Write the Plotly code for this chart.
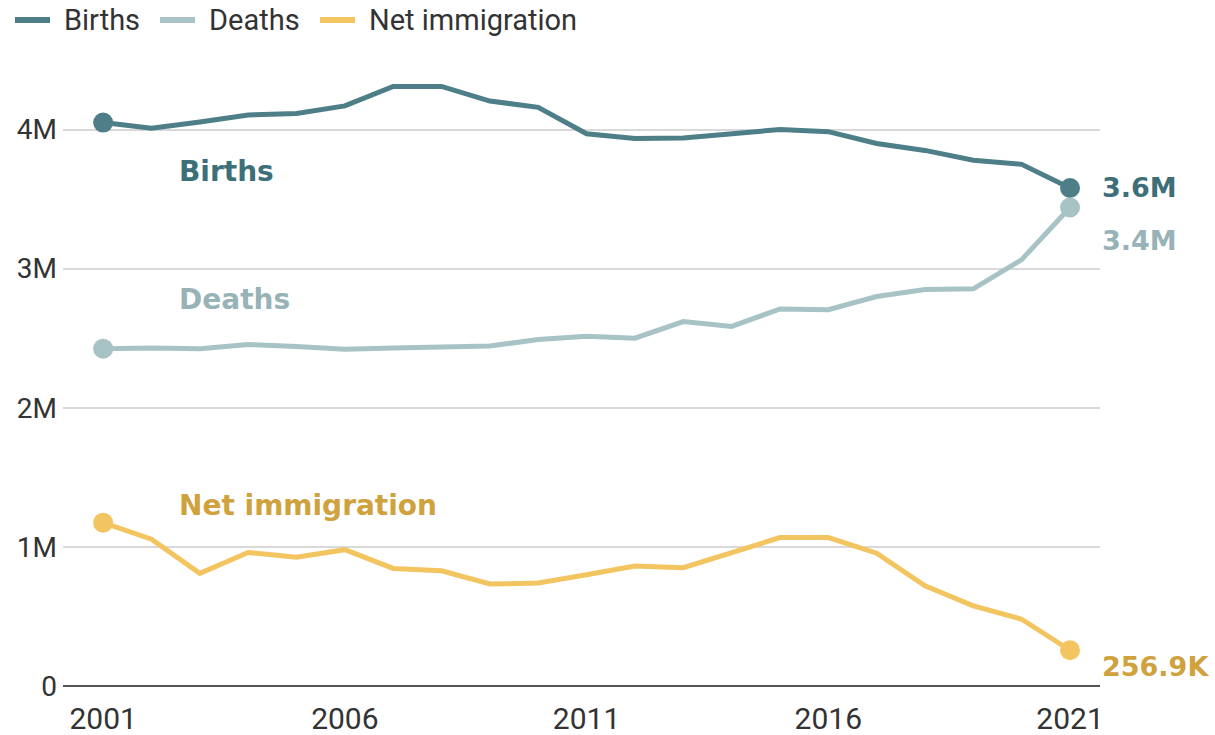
import plotly.graph_objects as go

years = list(range(2001, 2022))
births = [4.05, 4.01, 4.055, 4.105, 4.115, 4.17, 4.31, 4.31, 4.205, 4.16, 3.97,
          3.935, 3.94, 3.97, 4.0, 3.985, 3.9, 3.85, 3.78, 3.75, 3.58]
deaths = [2.425, 2.43, 2.425, 2.455, 2.44, 2.42, 2.43, 2.437, 2.444, 2.49, 2.515,
          2.50, 2.62, 2.585, 2.71, 2.705, 2.80, 2.85, 2.855, 3.065, 3.44]
net_imm = [1.174, 1.055, 0.81, 0.96, 0.926, 0.98, 0.845, 0.828, 0.733, 0.74, 0.80,
           0.863, 0.85, 0.96, 1.067, 1.067, 0.955, 0.72, 0.576, 0.48, 0.2569]
births = [v * 1e6 for v in births]
deaths = [v * 1e6 for v in deaths]
net_imm = [v * 1e6 for v in net_imm]

series = [
    ("Births", births, "#4e7f88", "#3d6f78", "3.6M", 0),
    ("Deaths", deaths, "#a8c3c6", "#98b3b7", "3.4M", -33),
    ("Net immigration", net_imm, "#f3c560", "#cfa23e", "256.9K", -16),
]
in_labels = [("Births", 3.70e6), ("Deaths", 2.78e6), ("Net immigration", 1.30e6)]

xticks = [2001, 2006, 2011, 2016, 2021]
yticks = [0, 1e6, 2e6, 3e6, 4e6]
yticklabels = ["0", "1M", "2M", "3M", "4M"]

BOLD = "DejaVu Sans, sans-serif"
REG = "Roboto, sans-serif"

W, H = 1215, 735
ML, MR, MT, MB = 63, 115, 60, 49
PW, PH = W - ML - MR, H - MT - MB


def px_to_paper_x(px):
    return (px - ML) / PW


def px_to_paper_y(py):
    return (H - MB - py) / PH


# legend item pixel positions (line start, text start)
legend_pos = [(15, 62), (160, 207), (320, 367)]
legend_y = 20

fig = go.Figure()
for (name, vals, col, tcol, endlab, ys), (lx, tx) in zip(series, legend_pos):
    fig.add_trace(go.Scatter(
        x=years, y=vals, mode="lines", name=name,
        line=dict(color=col, width=5), showlegend=False,
    ))
    fig.add_trace(go.Scatter(
        x=[years[0], years[-1]], y=[vals[0], vals[-1]], mode="markers",
        marker=dict(color=col, size=20), showlegend=False, hoverinfo="skip",
    ))
    fig.add_annotation(
        x=years[-1], y=vals[-1], text=f"<b>{endlab}</b>", showarrow=False,
        xanchor="left", yanchor="middle", xshift=30, yshift=ys,
        font=dict(family=BOLD, size=27, color=tcol),
    )
    # legend entry
    fig.add_shape(
        type="line", xref="paper", yref="paper",
        x0=px_to_paper_x(lx), x1=px_to_paper_x(lx + 35),
        y0=px_to_paper_y(legend_y), y1=px_to_paper_y(legend_y),
        line=dict(color=col, width=6),
    )
    fig.add_annotation(
        xref="paper", yref="paper", x=px_to_paper_x(tx), y=px_to_paper_y(legend_y),
        text=name, showarrow=False, xanchor="left", yanchor="middle",
        font=dict(family=REG, size=29, color="#333333"),
    )

for (lab, yv), (_, _, _, tcol, _, _) in zip(in_labels, series):
    fig.add_annotation(
        x=2002.53, y=yv, text=f"<b>{lab}</b>", showarrow=False,
        xanchor="left", yanchor="middle",
        font=dict(family=BOLD, size=28, color=tcol),
    )

fig.update_layout(
    width=W, height=H,
    margin=dict(l=ML, r=MR, t=MT, b=MB),
    plot_bgcolor="white", paper_bgcolor="white",
    font=dict(family=REG, size=28, color="#333333"),
    showlegend=False,
    xaxis=dict(
        range=[2000.17, 2021.62], tickvals=xticks, ticktext=[str(t) for t in xticks],
        showgrid=False, zeroline=False, showline=False, ticks="",
        ticklabelstandoff=12, automargin=False,
        tickfont=dict(family=REG, size=30, color="#333333"),
    ),
    yaxis=dict(
        range=[0, 4.5e6], tickvals=yticks, ticktext=yticklabels,
        showgrid=True, gridcolor="#d9d9d9", gridwidth=1.5,
        zeroline=True, zerolinecolor="#555555", zerolinewidth=2,
        ticks="", ticklabelstandoff=5, automargin=False,
        tickfont=dict(family=REG, size=28, color="#333333"),
    ),
)

fig.write_html(
    "out.html",
    config={"displayModeBar": False},
    post_script="document.body.style.margin='0';document.body.style.overflow='hidden';",
)
